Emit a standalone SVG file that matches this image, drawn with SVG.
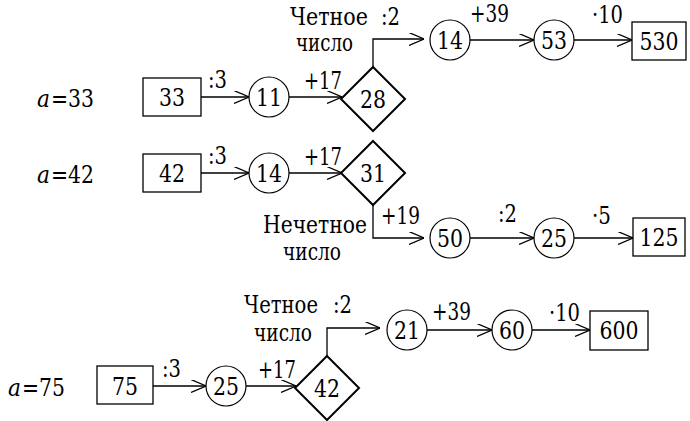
<svg xmlns="http://www.w3.org/2000/svg" width="690" height="421" viewBox="0 0 690 421">
<defs>
<style>
text{font-family:"DejaVu Serif","Liberation Serif","Times New Roman",serif;font-size:24px;fill:#000}
.c{text-anchor:middle}
.i{font-style:italic}
.box,.circ,.dia{fill:#fff;stroke:#000}
.box{stroke-width:1.3}
.circ{stroke-width:1.2}
.dia{stroke-width:2}
.ln{fill:none;stroke:#000;stroke-width:1.3}
</style>
<marker id="ah" viewBox="0 0 15 13" refX="15" refY="6.5" markerWidth="15" markerHeight="13" markerUnits="userSpaceOnUse" orient="auto">
<path d="M0,0 L15,6.5 L0,13" fill="none" stroke="#000" stroke-width="1.2"/>
</marker>
</defs>
<rect width="690" height="421" fill="#fff"/>

<g id="connectors">
<line class="ln" x1="201" y1="97" x2="249" y2="97" marker-end="url(#ah)"/>
<line class="ln" x1="289" y1="97" x2="342" y2="97" marker-end="url(#ah)"/>
<path class="ln" d="M373,67 V39 H424" marker-end="url(#ah)"/>
<line class="ln" x1="470" y1="40" x2="534" y2="40" marker-end="url(#ah)"/>
<line class="ln" x1="574" y1="40" x2="632" y2="40" marker-end="url(#ah)"/>

<line class="ln" x1="201" y1="173" x2="249" y2="173" marker-end="url(#ah)"/>
<line class="ln" x1="289" y1="173" x2="342" y2="173" marker-end="url(#ah)"/>
<path class="ln" d="M373,205 V238 H424" marker-end="url(#ah)"/>
<line class="ln" x1="470" y1="238" x2="534" y2="238" marker-end="url(#ah)"/>
<line class="ln" x1="574" y1="238" x2="633" y2="238" marker-end="url(#ah)"/>

<line class="ln" x1="153" y1="386" x2="206" y2="386" marker-end="url(#ah)"/>
<line class="ln" x1="246" y1="386" x2="296" y2="386" marker-end="url(#ah)"/>
<path class="ln" d="M327,356 V328 H380" marker-end="url(#ah)"/>
<line class="ln" x1="427" y1="330" x2="492" y2="330" marker-end="url(#ah)"/>
<line class="ln" x1="532" y1="330" x2="590" y2="330" marker-end="url(#ah)"/>
</g>

<g id="labels">
<text class="i" x="37" y="107" textLength="13" lengthAdjust="spacingAndGlyphs">a</text>
<text x="51" y="107" textLength="43" lengthAdjust="spacingAndGlyphs">=33</text>
<text class="i" x="37" y="183" textLength="13" lengthAdjust="spacingAndGlyphs">a</text>
<text x="51" y="183" textLength="43" lengthAdjust="spacingAndGlyphs">=42</text>
<text class="i" x="8" y="396" textLength="13" lengthAdjust="spacingAndGlyphs">a</text>
<text x="22" y="396" textLength="43" lengthAdjust="spacingAndGlyphs">=75</text>

<text x="208" y="88" textLength="19" lengthAdjust="spacingAndGlyphs">:3</text>
<text x="304" y="89" textLength="38" lengthAdjust="spacingAndGlyphs">+17</text>
<text x="290" y="25" textLength="78" lengthAdjust="spacingAndGlyphs">Четное</text>
<text x="296" y="51" textLength="57" lengthAdjust="spacingAndGlyphs">число</text>
<text x="381" y="25" textLength="19" lengthAdjust="spacingAndGlyphs">:2</text>
<text x="470" y="22" textLength="39" lengthAdjust="spacingAndGlyphs">+39</text>
<text x="592" y="23" textLength="31" lengthAdjust="spacingAndGlyphs">·10</text>

<text x="208" y="164" textLength="19" lengthAdjust="spacingAndGlyphs">:3</text>
<text x="304" y="165" textLength="38" lengthAdjust="spacingAndGlyphs">+17</text>
<text x="381" y="224" textLength="39" lengthAdjust="spacingAndGlyphs">+19</text>
<text x="263" y="233" textLength="104" lengthAdjust="spacingAndGlyphs">Нечетное</text>
<text x="283" y="260" textLength="58" lengthAdjust="spacingAndGlyphs">число</text>
<text x="498" y="222" textLength="19" lengthAdjust="spacingAndGlyphs">:2</text>
<text x="592" y="224" textLength="19" lengthAdjust="spacingAndGlyphs">·5</text>

<text x="162" y="377" textLength="19" lengthAdjust="spacingAndGlyphs">:3</text>
<text x="258" y="378" textLength="38" lengthAdjust="spacingAndGlyphs">+17</text>
<text x="244" y="313" textLength="74" lengthAdjust="spacingAndGlyphs">Четное</text>
<text x="254" y="341" textLength="58" lengthAdjust="spacingAndGlyphs">число</text>
<text x="333" y="313" textLength="19" lengthAdjust="spacingAndGlyphs">:2</text>
<text x="432" y="320" textLength="39" lengthAdjust="spacingAndGlyphs">+39</text>
<text x="549" y="321" textLength="31" lengthAdjust="spacingAndGlyphs">·10</text>
</g>

<g id="n-box33"><rect class="box" x="143" y="78" width="58" height="38"/><text class="c" x="172" y="106" textLength="26" lengthAdjust="spacingAndGlyphs">33</text></g>
<g id="n-c11"><circle class="circ" cx="269" cy="97" r="20"/><text class="c" x="269" y="106" textLength="26" lengthAdjust="spacingAndGlyphs">11</text></g>
<g id="n-d28"><polygon class="dia" points="373,67 405,99 373,131 341,99"/><text class="c" x="373" y="108" textLength="26" lengthAdjust="spacingAndGlyphs">28</text></g>
<g id="n-c14a"><circle class="circ" cx="450" cy="40" r="20"/><text class="c" x="450" y="49" textLength="26" lengthAdjust="spacingAndGlyphs">14</text></g>
<g id="n-c53"><circle class="circ" cx="554" cy="40" r="20"/><text class="c" x="554" y="49" textLength="26" lengthAdjust="spacingAndGlyphs">53</text></g>
<g id="n-box530"><rect class="box" x="632" y="22" width="54" height="38"/><text class="c" x="659" y="50" textLength="39" lengthAdjust="spacingAndGlyphs">530</text></g>

<g id="n-box42"><rect class="box" x="143" y="154" width="58" height="38"/><text class="c" x="172" y="182" textLength="26" lengthAdjust="spacingAndGlyphs">42</text></g>
<g id="n-c14b"><circle class="circ" cx="269" cy="173" r="20"/><text class="c" x="269" y="182" textLength="26" lengthAdjust="spacingAndGlyphs">14</text></g>
<g id="n-d31"><polygon class="dia" points="373,141 405,173 373,205 341,173"/><text class="c" x="373" y="182" textLength="26" lengthAdjust="spacingAndGlyphs">31</text></g>
<g id="n-c50"><circle class="circ" cx="450" cy="238" r="20"/><text class="c" x="450" y="247" textLength="26" lengthAdjust="spacingAndGlyphs">50</text></g>
<g id="n-c25a"><circle class="circ" cx="554" cy="238" r="20"/><text class="c" x="554" y="247" textLength="26" lengthAdjust="spacingAndGlyphs">25</text></g>
<g id="n-box125"><rect class="box" x="633" y="218" width="52" height="38"/><text class="c" x="659" y="246" textLength="39" lengthAdjust="spacingAndGlyphs">125</text></g>

<g id="n-box75"><rect class="box" x="97" y="366" width="56" height="38"/><text class="c" x="125" y="395" textLength="26" lengthAdjust="spacingAndGlyphs">75</text></g>
<g id="n-c25b"><circle class="circ" cx="226" cy="386" r="20"/><text class="c" x="226" y="395" textLength="26" lengthAdjust="spacingAndGlyphs">25</text></g>
<g id="n-d42"><polygon class="dia" points="327,356 359,388 327,420 295,388"/><text class="c" x="327" y="397" textLength="26" lengthAdjust="spacingAndGlyphs">42</text></g>
<g id="n-c21"><circle class="circ" cx="407" cy="330" r="20"/><text class="c" x="407" y="339" textLength="26" lengthAdjust="spacingAndGlyphs">21</text></g>
<g id="n-c60"><circle class="circ" cx="512" cy="330" r="20"/><text class="c" x="512" y="339" textLength="26" lengthAdjust="spacingAndGlyphs">60</text></g>
<g id="n-box600"><rect class="box" x="590" y="311" width="58" height="39"/><text class="c" x="619" y="339" textLength="39" lengthAdjust="spacingAndGlyphs">600</text></g>
</svg>
